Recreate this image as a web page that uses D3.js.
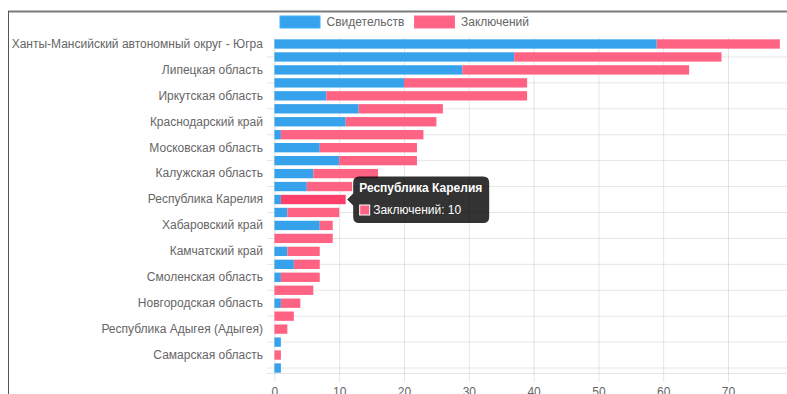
<!DOCTYPE html>
<html lang="ru">
<head>
<meta charset="utf-8">
<script src="https://cdn.jsdelivr.net/npm/d3@7/dist/d3.min.js"></script>
<style>
  html, body { margin: 0; padding: 0; background: #fff; }
  svg { display: block; }
  text { font-family: "Liberation Sans", Arial, Helvetica, sans-serif; }
</style>
</head>
<body>
<svg id="chart" width="787" height="394"></svg>
<script>
// Regions, ordered by total count
const regions = [
  "Ханты-Мансийский автономный округ - Югра",
  "Свердловская область",
  "Липецкая область",
  "Тюменская область",
  "Иркутская область",
  "Ростовская область",
  "Краснодарский край",
  "Воронежская область",
  "Московская область",
  "Челябинская область",
  "Калужская область",
  "Пермский край",
  "Республика Карелия",
  "Тульская область",
  "Хабаровский край",
  "Ярославская область",
  "Камчатский край",
  "Омская область",
  "Смоленская область",
  "Курская область",
  "Новгородская область",
  "Белгородская область",
  "Республика Адыгея (Адыгея)",
  "Орловская область",
  "Самарская область",
  "Томская область"
];
const seriesNames = ["Свидетельств", "Заключений"];
const svidetelstv = [59, 37, 29, 20, 8, 13, 11, 1, 7, 10, 6, 5, 1, 2, 7, 0, 2, 3, 1, 0, 1, 0, 0, 1, 0, 1];
const zaklyucheniy = [19, 32, 35, 19, 31, 13, 14, 22, 15, 12, 10, 7, 10, 8, 2, 9, 5, 4, 6, 6, 3, 3, 2, 0, 1, 0];
const xTicks = [0, 10, 20, 30, 40, 50, 60, 70, 80];
const colors = ["#36a2eb", "#ff6384"];
const hoverColor = "#ff3f6b";
const activeRegion = "Республика Карелия";
const activeSeries = 1;

const svg = d3.select("#chart");
const area = { left: 274.4, right: 792.8, top: 37.5, bottom: 374.5 };

const x = d3.scaleLinear().domain([0, 80]).range([area.left, area.right]);
const y = d3.scaleBand().domain(regions).range([area.top, area.bottom])
  .paddingInner(0.28).paddingOuter(0.14);

// page frame
svg.append("line").attr("x1", 8).attr("x2", 787).attr("y1", 11.5).attr("y2", 11.5)
  .attr("stroke", "#7a7a7a").attr("stroke-width", 2);
svg.append("line").attr("x1", 8.5).attr("x2", 8.5).attr("y1", 11).attr("y2", 394)
  .attr("stroke", "#555").attr("stroke-width", 1);

const gridColor = "rgba(0,0,0,0.1)";

// horizontal grid lines between every other pair of labels
const oddRegions = regions.filter((d, i) => i % 2 === 1);
const gridY = svg.append("g").attr("transform", `translate(267,0)`)
  .call(d3.axisLeft(y).tickValues(oddRegions).tickSizeInner(-(800 - 267)).tickSizeOuter(0).tickFormat(""));
gridY.select(".domain").remove();
gridY.selectAll(".tick line").attr("stroke", gridColor);

// vertical grid lines and value labels
const xAxis = svg.append("g").attr("transform", `translate(0,382)`)
  .call(d3.axisBottom(x).tickValues(xTicks).tickSizeInner(-(382 - area.top)).tickSizeOuter(0).tickPadding(5));
xAxis.select(".domain").remove();
xAxis.selectAll(".tick line").attr("stroke", gridColor);
xAxis.selectAll(".tick text").attr("fill", "#666").attr("font-size", 12)
  .attr("font-family", "'Liberation Sans', Arial, Helvetica, sans-serif");

// bottom axis line
svg.append("line").attr("x1", 267).attr("x2", 800).attr("y1", 373.5).attr("y2", 373.5)
  .attr("stroke", gridColor);

// category labels (every other region fits)
const evenRegions = regions.filter((d, i) => i % 2 === 0);
const yAxis = svg.append("g").attr("transform", `translate(${area.left},0)`)
  .call(d3.axisLeft(y).tickValues(evenRegions).tickSize(0).tickPadding(11.5));
yAxis.select(".domain").remove();
yAxis.selectAll(".tick text").attr("fill", "#666").attr("font-size", 12)
  .attr("font-family", "'Liberation Sans', Arial, Helvetica, sans-serif");

// stacked bars
const rows = regions.map((r, i) => ({ region: r, values: [svidetelstv[i], zaklyucheniy[i]] }));
const stacked = d3.stack().keys([0, 1]).value((d, k) => d.values[k])(rows);

stacked.forEach((layer, k) => {
  svg.append("g").selectAll("rect").data(layer).join("rect")
    .attr("x", d => x(d[0]))
    .attr("y", d => y(d.data.region))
    .attr("width", d => Math.max(0, x(d[1]) - x(d[0])))
    .attr("height", y.bandwidth())
    .attr("fill", d => (k === activeSeries && d.data.region === activeRegion) ? hoverColor : colors[k]);
});

// legend
const legend = svg.append("g");
const legendItems = [
  { name: seriesNames[0], color: colors[0], x: 280 },
  { name: seriesNames[1], color: colors[1], x: 414.5 }
];
legendItems.forEach(it => {
  legend.append("rect").attr("x", it.x).attr("y", 16).attr("width", 40).attr("height", 12)
    .attr("fill", it.color).attr("stroke", d3.color(it.color).brighter(0.3)).attr("stroke-width", 1);
  legend.append("text").attr("x", it.x + 46.5).attr("y", 22).attr("dy", "0.35em")
    .attr("fill", "#666").attr("font-size", 12).text(it.name);
});

// tooltip for the active bar
const idx = regions.indexOf(activeRegion);
const tipVal = zaklyucheniy[idx];
const tipX = x(svidetelstv[idx] + tipVal) + 1.5;
const tipY = y(activeRegion) + y.bandwidth() / 2;
const bx = tipX + 6, by = tipY - 23, bw = 136, bh = 46.5, r = 6;
const tipPath = d3.path();
tipPath.moveTo(bx + r, by);
tipPath.lineTo(bx + bw - r, by);
tipPath.quadraticCurveTo(bx + bw, by, bx + bw, by + r);
tipPath.lineTo(bx + bw, by + bh - r);
tipPath.quadraticCurveTo(bx + bw, by + bh, bx + bw - r, by + bh);
tipPath.lineTo(bx + r, by + bh);
tipPath.quadraticCurveTo(bx, by + bh, bx, by + bh - r);
tipPath.lineTo(bx, tipY + 6);
tipPath.lineTo(tipX, tipY);
tipPath.lineTo(bx, tipY - 6);
tipPath.lineTo(bx, by + r);
tipPath.quadraticCurveTo(bx, by, bx + r, by);
tipPath.closePath();
const tip = svg.append("g");
tip.append("path").attr("d", tipPath.toString()).attr("fill", "rgba(0,0,0,0.8)");
tip.append("text").attr("x", bx + 6).attr("y", by + 15.5).attr("fill", "#fff")
  .attr("font-size", 12).attr("font-weight", "bold").text(activeRegion);
tip.append("rect").attr("x", bx + 6.5).attr("y", by + 28.5).attr("width", 10).attr("height", 10)
  .attr("fill", colors[1]).attr("stroke", "#fff").attr("stroke-width", 1);
tip.append("text").attr("x", bx + 20).attr("y", by + 37.5).attr("fill", "#fff")
  .attr("font-size", 12).text(`${seriesNames[1]}: ${tipVal}`);
</script>
</body>
</html>
